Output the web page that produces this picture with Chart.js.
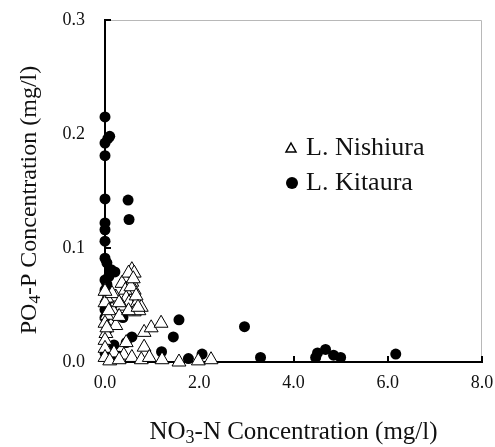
<!DOCTYPE html>
<html>
<head>
<meta charset="utf-8">
<script src="https://cdn.jsdelivr.net/npm/chart.js@4/dist/chart.umd.min.js"></script>
<style>
	html, body { margin: 0; padding: 0; background: #fff; }
	#wrap { width: 495px; height: 447px; }
</style>
</head>
<body>
<div id="wrap"><canvas id="chart" width="495" height="447" style="width:495px;height:447px"></canvas></div>
<script>
// L. Nishiura (open triangles)
const nishiuraNO3 = [0.57, 0.47, 0.62, 0.36, 0.57, 0.62, 0.43, 0.23, 0.04, 0.45, 0.51, 0.68, 0.77, 0.36, 0.62, 0.15, 0.04, 0.72, 0.0, 0.0, 0.23, 0.02, 0.0, 0.83, 0.98, 1.19, 0.45, 0.83, 0.0, 0.19, 0.4, 0.57, 0.77, 0.94, 1.21, 1.57, 1.98, 2.25, 0.0, 0.1, 0.3, 0.15, 0.08, 0.3, 0.5, 0.0, 0.04, 0.55, 0.66, 0.5, 0.7, 0.3, 0.6];
const nishiuraPO4 = [0.081, 0.074, 0.078, 0.069, 0.070, 0.063, 0.063, 0.057, 0.056, 0.056, 0.052, 0.052, 0.048, 0.049, 0.044, 0.046, 0.041, 0.045, 0.052, 0.034, 0.032, 0.025, 0.019, 0.026, 0.030, 0.034, 0.017, 0.013, 0.012, 0.008, 0.006, 0.004, 0.002, 0.004, 0.002, 0.0, 0.001, 0.002, 0.004, 0.001, 0.002, 0.060, 0.045, 0.040, 0.045, 0.062, 0.030, 0.066, 0.058, 0.078, 0.048, 0.052, 0.073];

// L. Kitaura (filled circles)
const kitauraNO3 = [0.0, 0.06, 0.1, 0.0, 0.0, 0.0, 0.49, 0.0, 0.51, 0.0, 0.0, 0.0, 0.04, 0.13, 0.21, 0.08, 0.0, 0.04, 0.0, 0.06, 0.04, 0.0, 0.0, 0.38, 0.04, 0.57, 0.45, 0.19, 0.0, 1.57, 1.45, 1.2, 1.77, 2.06, 2.96, 3.3, 4.47, 4.51, 4.68, 4.85, 5.0, 6.17, 0.1, 0.3];
const kitauraPO4 = [0.215, 0.196, 0.198, 0.192, 0.181, 0.143, 0.142, 0.122, 0.125, 0.116, 0.106, 0.091, 0.087, 0.081, 0.079, 0.075, 0.072, 0.068, 0.063, 0.058, 0.052, 0.046, 0.039, 0.039, 0.028, 0.022, 0.017, 0.015, 0.008, 0.037, 0.022, 0.009, 0.003, 0.007, 0.031, 0.004, 0.004, 0.008, 0.011, 0.006, 0.004, 0.007, 0.003, 0.005];

const xTicks = [0, 2, 4, 6, 8];
const yTicks = [0, 0.1, 0.2, 0.3];
const seriesNames = ["L. Nishiura", "L. Kitaura"];

const serif = "'Liberation Serif', 'Times New Roman', serif";

function toPoints(xs, ys) {
	return xs.map((x, i) => ({ x: x, y: ys[i] }));
}

// text with one subscript part, centred on (0, 0) of the current transform
function drawSubTitle(ctx, parts, size) {
	const subSize = Math.round(size * 0.7);
	let total = 0;
	for (const p of parts) {
		ctx.font = `${p.sub ? subSize : size}px ${serif}`;
		total += ctx.measureText(p.text).width;
	}
	let x = -total / 2;
	ctx.textBaseline = "middle";
	ctx.textAlign = "left";
	for (const p of parts) {
		ctx.font = `${p.sub ? subSize : size}px ${serif}`;
		ctx.fillText(p.text, x, p.sub ? size * 0.25 : 0);
		x += ctx.measureText(p.text).width;
	}
}

const decorPlugin = {
	id: "decor",
	beforeDatasetsDraw(chart) {
		const { ctx, chartArea: a } = chart;
		ctx.save();
		ctx.strokeStyle = "#b8b8b8";
		ctx.lineWidth = 1;
		ctx.beginPath();
		ctx.moveTo(a.left, a.top + 0.5);
		ctx.lineTo(a.right - 0.5, a.top + 0.5);
		ctx.lineTo(a.right - 0.5, a.bottom);
		ctx.stroke();

		// inside tick marks
		ctx.strokeStyle = "#000";
		ctx.lineWidth = 2;
		const xs = chart.scales.x;
		const ys = chart.scales.y;
		ctx.beginPath();
		for (const v of xTicks.slice(1)) {
			const px = Math.round(xs.getPixelForValue(v));
			ctx.moveTo(px, a.bottom);
			ctx.lineTo(px, a.bottom - 6);
		}
		for (const v of yTicks.slice(1)) {
			const py = Math.round(ys.getPixelForValue(v));
			ctx.moveTo(a.left, py);
			ctx.lineTo(a.left + 6, py);
		}
		ctx.stroke();
		ctx.restore();
	},
	afterDraw(chart) {
		const { ctx, chartArea: a } = chart;
		ctx.save();
		ctx.fillStyle = "#111";

		// axis titles
		ctx.save();
		ctx.translate((a.left + a.right) / 2, 432);
		drawSubTitle(ctx, [{ text: "NO" }, { text: "3", sub: true }, { text: "-N Concentration (mg/l)" }], 25);
		ctx.restore();

		ctx.save();
		ctx.translate(30, 200);
		ctx.rotate(-Math.PI / 2);
		drawSubTitle(ctx, [{ text: "PO" }, { text: "4", sub: true }, { text: "-P Concentration (mg/l)" }], 24);
		ctx.restore();

		// legend
		ctx.font = `26px ${serif}`;
		ctx.textBaseline = "middle";
		ctx.textAlign = "left";
		ctx.fillText(seriesNames[0], 306, 148);
		ctx.fillText(seriesNames[1], 306, 183);

		ctx.strokeStyle = "#000";
		ctx.lineWidth = 1.5;
		ctx.fillStyle = "#fff";
		ctx.beginPath();
		ctx.moveTo(291, 143);
		ctx.lineTo(296, 152);
		ctx.lineTo(286, 152);
		ctx.closePath();
		ctx.fill();
		ctx.stroke();

		ctx.fillStyle = "#000";
		ctx.beginPath();
		ctx.arc(292, 183, 6, 0, Math.PI * 2);
		ctx.fill();
		ctx.restore();
	},
};

new Chart(document.getElementById("chart"), {
	type: "scatter",
	data: {
		datasets: [
			{
				label: seriesNames[0],
				data: toPoints(nishiuraNO3, nishiuraPO4),
				pointStyle: "triangle",
				pointRadius: 8,
				pointBackgroundColor: "#fff",
				pointBorderColor: "#000",
				pointBorderWidth: 1,
				clip: false,
			},
			{
				label: seriesNames[1],
				data: toPoints(kitauraNO3, kitauraPO4),
				pointStyle: "circle",
				pointRadius: 5.5,
				pointBackgroundColor: "#000",
				pointBorderColor: "#000",
				pointBorderWidth: 0,
				clip: false,
			},
		],
	},
	options: {
		responsive: false,
		animation: false,
		layout: { padding: { left: 0, right: 13, top: 20, bottom: 0 } },
		plugins: {
			legend: { display: false },
			tooltip: { enabled: false },
		},
		scales: {
			x: {
				type: "linear",
				min: 0,
				max: 8,
				afterFit: (scale) => {
					scale.height = 85;
					scale.paddingLeft = 0;
					scale.paddingRight = 0;
				},
				afterBuildTicks: (scale) => { scale.ticks = xTicks.map((v) => ({ value: v })); },
				grid: { display: false, drawTicks: false },
				border: { color: "#000", width: 2 },
				ticks: {
					padding: 10,
					color: "#111",
					font: { family: serif, size: 18 },
					callback: (v) => v.toFixed(1),
				},
			},
			y: {
				type: "linear",
				min: 0,
				max: 0.3,
				afterFit: (scale) => {
					scale.width = 105;
					scale.paddingTop = 0;
					scale.paddingBottom = 0;
				},
				afterBuildTicks: (scale) => { scale.ticks = yTicks.map((v) => ({ value: v })); },
				grid: { display: false, drawTicks: false },
				border: { color: "#000", width: 2 },
				ticks: {
					padding: 20,
					color: "#111",
					font: { family: serif, size: 18 },
					callback: (v) => v.toFixed(1),
				},
			},
		},
	},
	plugins: [decorPlugin],
});
</script>
</body>
</html>
